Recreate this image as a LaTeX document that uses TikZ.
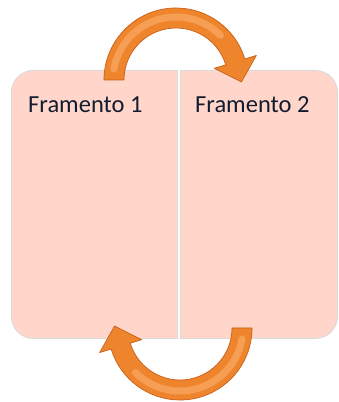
\documentclass[tikz,border=0pt]{standalone}
\usepackage{fontspec}
\setmainfont{Carlito}
\usetikzlibrary{calc}
\definecolor{boxfill}{RGB}{255,214,201}
\definecolor{boxline}{RGB}{218,218,218}
\definecolor{arrowfill}{RGB}{238,132,44}
\definecolor{arrowedge}{RGB}{200,96,26}
\definecolor{arrowlight}{RGB}{250,176,112}
\definecolor{txt}{RGB}{18,28,48}
\tikzset{
  frbox/.style={rectangle, rounded corners=22, fill=boxfill, draw=boxline, line width=0.9, inner sep=0, anchor=north west},
  frlabel/.style={anchor=base west, inner sep=0, font=\fontsize{24.5}{28}\selectfont, text=txt},
  orarrow/.style={fill=arrowfill, draw=arrowedge, line width=0.7, line join=round},
  orlight/.style={draw=arrowlight, line width=7, line cap=round, opacity=0.6}
}
\begin{document}
\begin{tikzpicture}[x=1pt,y=1pt]
\useasboundingbox (0,0) rectangle (339,402);
% boxes (image y -> page y = 402 - y)
\node[frbox, minimum width=166, minimum height=268] (f1) at (11,332) {};
\fill[boxfill] ($(f1.north)+(0,-0.45)$) rectangle ($(f1.south east)+(-0.45,0.45)$);
\draw[boxline, line width=0.9] (f1.north) -- (f1.north east) -- (f1.south east) -- (f1.south);
\node[frbox, minimum width=157, minimum height=268] (f2) at (180,332) {};
\fill[boxfill] ($(f2.north west)+(0.45,-0.45)$) rectangle ($(f2.south)+(0,0.45)$);
\draw[boxline, line width=0.9] (f2.north) -- (f2.north west) -- (f2.south west) -- (f2.south);
\node[frlabel] (t1) at (28,289) {Framento 1};
\node[frlabel] (t2) at (195,289) {Framento 2};
% top arrow: from box 1 to box 2
\coordinate (c1) at (176,322);
\draw[orarrow] ($(c1)+(180:72)$) arc[start angle=180, end angle=17, radius=72]
  -- ($(c1)+(17:84)$) -- ($(c1)+(17:62)+(-73:21)$) -- ($(c1)+(17:40)$)
  -- ($(c1)+(17:52)$) arc[start angle=17, end angle=180, radius=52] -- cycle;
\draw[orlight] ($(c1)+(170:63)$) arc[start angle=170, end angle=45, radius=63];
% bottom arrow: from box 2 to box 1
\coordinate (c2) at (180,74);
\draw[orarrow] ($(c2)+(0:72)$) arc[start angle=0, end angle=-163, radius=72]
  -- ($(c2)+(-163:84)$) -- ($(c2)+(-163:62)+(107:21)$) -- ($(c2)+(-163:40)$)
  -- ($(c2)+(-163:52)$) arc[start angle=-163, end angle=0, radius=52] -- cycle;
\draw[orlight] ($(c2)+(-10:63)$) arc[start angle=-10, end angle=-135, radius=63];
\end{tikzpicture}
\end{document}
